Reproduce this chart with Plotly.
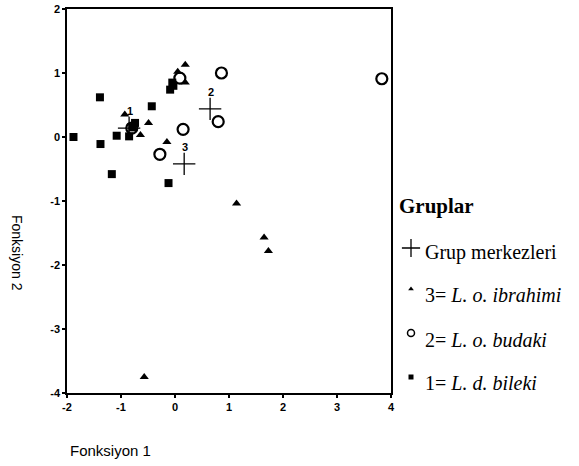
import plotly.graph_objects as go

W, H = 579, 466

# ---- data ----
g1_x = [-1.88, -1.39, -1.38, -1.17, -1.08, -0.85, -0.74, -0.79, -0.43, -0.12, -0.09, -0.05, -0.03]
g1_y = [0.00, 0.62, -0.11, -0.58, 0.02, 0.01, 0.22, 0.15, 0.48, -0.72, 0.74, 0.85, 0.80]

g2_x = [-0.80, -0.28, 0.15, 0.09, 0.86, 0.80, 3.83]
g2_y = [0.14, -0.27, 0.12, 0.92, 1.00, 0.24, 0.91]

g3_x = [-0.93, -0.49, -0.64, -0.15, 0.05, 0.19, 0.19, -0.57, 1.14, 1.65, 1.73]
g3_y = [0.35, 0.22, 0.03, -0.08, 1.02, 1.13, 0.85, -3.75, -1.04, -1.57, -1.78]

cent_x = [-0.85, 0.65, 0.17]
cent_y = [0.14, 0.44, -0.42]
cent_labels = ["1", "2", "3"]

x_ticks = [-2, -1, 0, 1, 2, 3, 4]
x_ticktext = ["-2", "-1", "0", "1", "2", "3", "4"]
y_ticks = [-4, -3, -2, -1, 0, 1, 2]
y_ticktext = ["-4", "-3", "-2", "-1", "0", "1", "2"]

legend_title = "Gruplar"
legend_labels = ["Grup merkezleri",
                 "3= <i>L. o. ibrahimi</i>",
                 "2= <i>L. o. budaki</i>",
                 "1= <i>L. d. bileki</i>"]
legend_symbols = ["cross-thin", "triangle-up", "circle-open", "square"]

# ---- layout geometry (pixels) ----
PL, PR, PT, PB = 67, 391, 9, 393
SERIF = "Liberation Serif, Times New Roman, serif"
SANS = "Liberation Sans, Arial, sans-serif"

fig = go.Figure()

fig.add_trace(go.Scatter(x=g1_x, y=g1_y, mode="markers",
                         marker=dict(symbol="square", size=8, color="black"),
                         showlegend=False))
fig.add_trace(go.Scatter(x=g3_x, y=g3_y, mode="markers",
                         marker=dict(symbol="triangle-up", size=8, color="black"),
                         showlegend=False))
fig.add_trace(go.Scatter(x=g2_x, y=g2_y, mode="markers",
                         marker=dict(symbol="circle-open", size=11, color="black",
                                     line=dict(width=2.2, color="black")),
                         showlegend=False))
fig.add_trace(go.Scatter(x=cent_x, y=cent_y, mode="markers",
                         marker=dict(symbol="cross-thin", size=16,
                                     line=dict(width=1.3, color="black")),
                         showlegend=False))

for cx, cy, lab in zip(cent_x, cent_y, cent_labels):
    fig.add_annotation(x=cx, y=cy, xref="x", yref="y", text="<b>%s</b>" % lab,
                       showarrow=False, yshift=17, xshift=1,
                       font=dict(family=SANS, size=11, color="black"))

# ---- legend drawn on an overlay axis in pixel units ----
leg_text_y = [252, 295, 340, 383]
leg_sym_y = [248, 289, 333, 377]
for i, (lab, sym) in enumerate(zip(legend_labels, legend_symbols)):
    if sym == "cross-thin":
        mk = dict(symbol=sym, size=13, line=dict(width=1.3, color="black"))
    elif sym == "circle-open":
        mk = dict(symbol=sym, size=7, color="black", line=dict(width=1.5, color="black"))
    else:
        mk = dict(symbol=sym, size=5, color="black")
    fig.add_trace(go.Scatter(x=[411], y=[leg_sym_y[i]], xaxis="x2", yaxis="y2",
                             mode="markers", marker=mk, showlegend=False,
                             cliponaxis=False, hoverinfo="skip"))
    fig.add_annotation(x=423, y=leg_text_y[i], xref="x2", yref="y2", text=lab,
                       showarrow=False, xanchor="left", yanchor="middle",
                       font=dict(family=SERIF, size=20, color="black"))

fig.add_annotation(x=397, y=206, xref="x2", yref="y2", text="<b>%s</b>" % legend_title,
                   showarrow=False, xanchor="left", yanchor="middle",
                   font=dict(family=SERIF, size=21, color="black"))

# axis titles
fig.add_annotation(x=68, y=450, xref="x2", yref="y2", text="Fonksiyon 1",
                   showarrow=False, xanchor="left", yanchor="middle",
                   font=dict(family=SANS, size=15, color="black"))
fig.add_annotation(x=17, y=253, xref="x2", yref="y2", text="Fonksiyon 2",
                   showarrow=False, textangle=90, xanchor="center", yanchor="middle",
                   font=dict(family=SANS, size=14, color="black"))

axis_common = dict(showgrid=False, zeroline=False, showline=True, mirror=True,
                   linecolor="black", linewidth=1.5, ticks="outside", ticklen=3,
                   tickwidth=2, tickcolor="black",
                   tickfont=dict(family=SANS, size=11, color="black", weight="bold"))

fig.update_layout(
    width=W, height=H,
    margin=dict(l=0, r=0, t=0, b=0, autoexpand=False),
    paper_bgcolor="white", plot_bgcolor="rgba(0,0,0,0)",
    xaxis=dict(domain=[PL / W, PR / W], range=[-2, 4], tickvals=x_ticks,
               ticktext=x_ticktext, anchor="y", **axis_common),
    yaxis=dict(domain=[(H - PB) / H, (H - PT) / H], range=[-4, 2], tickvals=y_ticks,
               ticktext=y_ticktext, anchor="x", **axis_common),
    xaxis2=dict(domain=[0, 1], range=[0, W], visible=False, anchor="y2", fixedrange=True),
    yaxis2=dict(domain=[0, 1], range=[H, 0], visible=False, anchor="x2", fixedrange=True),
    showlegend=False,
)

fig.write_html("out.html", config={"displayModeBar": False},
               post_script="document.body.style.margin='0';")
